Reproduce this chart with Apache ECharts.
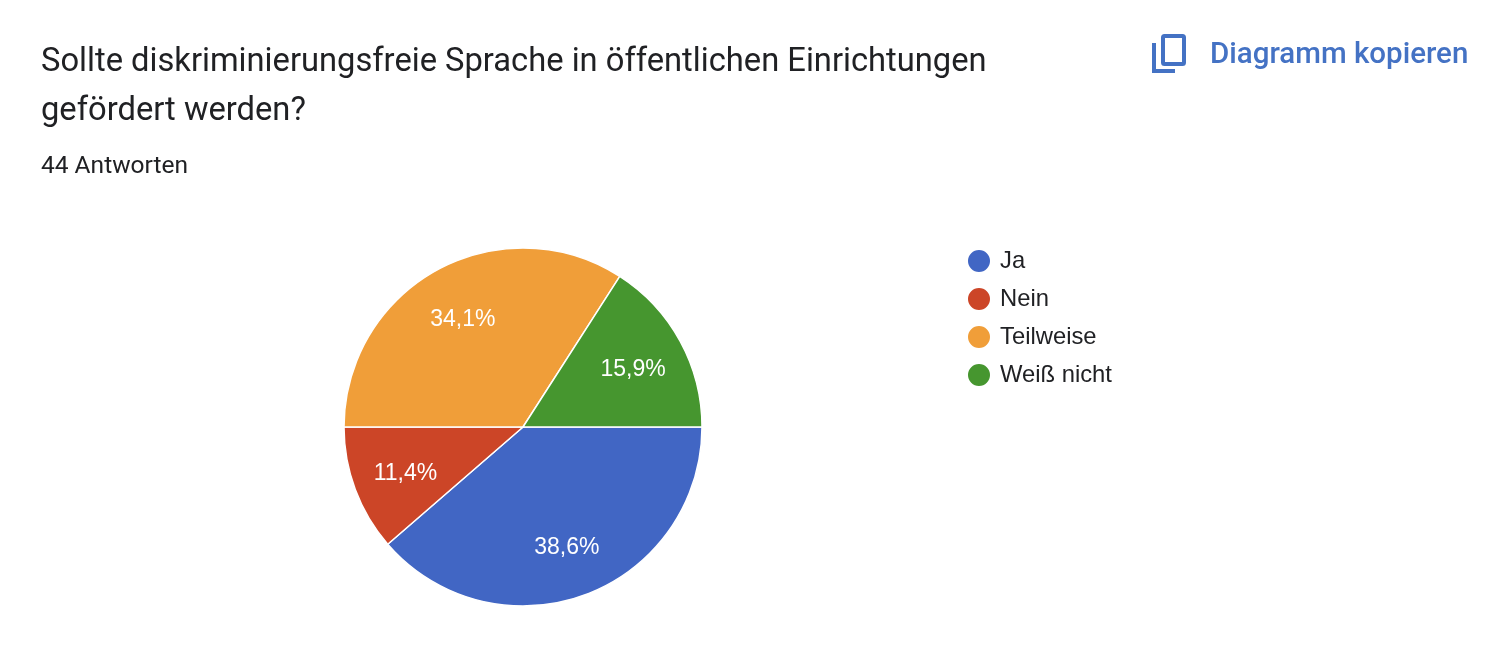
<!DOCTYPE html>
<html>
<head>
<meta charset="utf-8">
<script src="https://cdn.jsdelivr.net/npm/echarts@6/dist/echarts.min.js"></script>
<style>
    html, body { margin: 0; padding: 0; background: #fff; }
    #chart { width: 1504px; height: 671px; }
</style>
</head>
<body>
<div id="chart"></div>
<script>
// Data
const categories = ['Ja', 'Nein', 'Teilweise', 'Weiß nicht'];
const counts = [17, 5, 15, 7];
const colors = ['#4166c4', '#cc4527', '#f09e39', '#46962f'];

const titleLines = 'Sollte diskriminierungsfreie Sprache in öffentlichen Einrichtungen\ngefördert werden?';
const subtitle = '44 Antworten';

const total = counts.reduce((a, b) => a + b, 0);
const pieData = categories.map((name, i) => ({
    name: name,
    value: counts[i],
    itemStyle: { color: colors[i] }
}));

function fmtPct(p) {
    return (p.value / total * 100).toFixed(1).replace('.', ',') + '%';
}

const labelFont = "'Liberation Sans', Arial, sans-serif";

const chart = echarts.init(document.getElementById('chart'), null, { renderer: 'canvas' });
chart.setOption({
    animation: false,
    title: {
        text: titleLines,
        subtext: subtitle,
        left: 41,
        top: 38,
        padding: 0,
        itemGap: 19,
        textStyle: {
            fontFamily: 'Roboto',
            fontSize: 32.7,
            fontWeight: 'normal',
            color: '#202124',
            lineHeight: 49
        },
        subtextStyle: {
            fontFamily: 'Roboto',
            fontSize: 24.5,
            lineHeight: 24,
            color: '#202124'
        }
    },
    legend: {
        orient: 'vertical',
        left: 966,
        top: 248,
        padding: 0,
        icon: 'circle',
        itemWidth: 24,
        itemHeight: 24,
        itemGap: 12,
        textStyle: {
            fontFamily: labelFont,
            fontSize: 23.8,
            color: '#202124',
            padding: [0, 0, 0, 4]
        },
        selectedMode: false,
        data: categories
    },
    graphic: [
        // copy icon: back L shape
        { type: 'rect', shape: { x: 1152, y: 43, width: 4, height: 30 }, style: { fill: '#4472c4' } },
        { type: 'rect', shape: { x: 1152, y: 69, width: 23, height: 4 }, style: { fill: '#4472c4' } },
        // front sheet
        { type: 'rect', shape: { x: 1163, y: 36, width: 21, height: 28, r: 1.5 },
          style: { fill: 'none', stroke: '#4472c4', lineWidth: 4 } },
        {
            type: 'text', x: 1210, y: 56,
            style: {
                text: 'Diagramm kopieren',
                font: '500 29.5px Roboto',
                fill: '#4472c4',
                verticalAlign: 'middle'
            }
        }
    ],
    series: [
        {
            type: 'pie',
            center: [523, 427],
            radius: [0, 179],
            startAngle: 0,
            clockwise: true,
            silent: true,
            label: { show: false },
            labelLine: { show: false },
            itemStyle: { borderColor: '#fff', borderWidth: 1.5 },
            data: pieData
        },
        {
            // label ring so percentages sit further out than mid radius
            type: 'pie',
            center: [523, 430],
            radius: [66, 179],
            startAngle: 0,
            clockwise: true,
            silent: true,
            legendHoverLink: false,
            label: {
                show: true,
                position: 'inside',
                formatter: fmtPct,
                fontFamily: labelFont,
                fontSize: 23,
                color: '#fff'
            },
            labelLine: { show: false },
            data: categories.map((name, i) => ({ name: name, value: counts[i], itemStyle: { color: 'rgba(0,0,0,0)' } }))
        }
    ]
});
</script>
</body>
</html>
